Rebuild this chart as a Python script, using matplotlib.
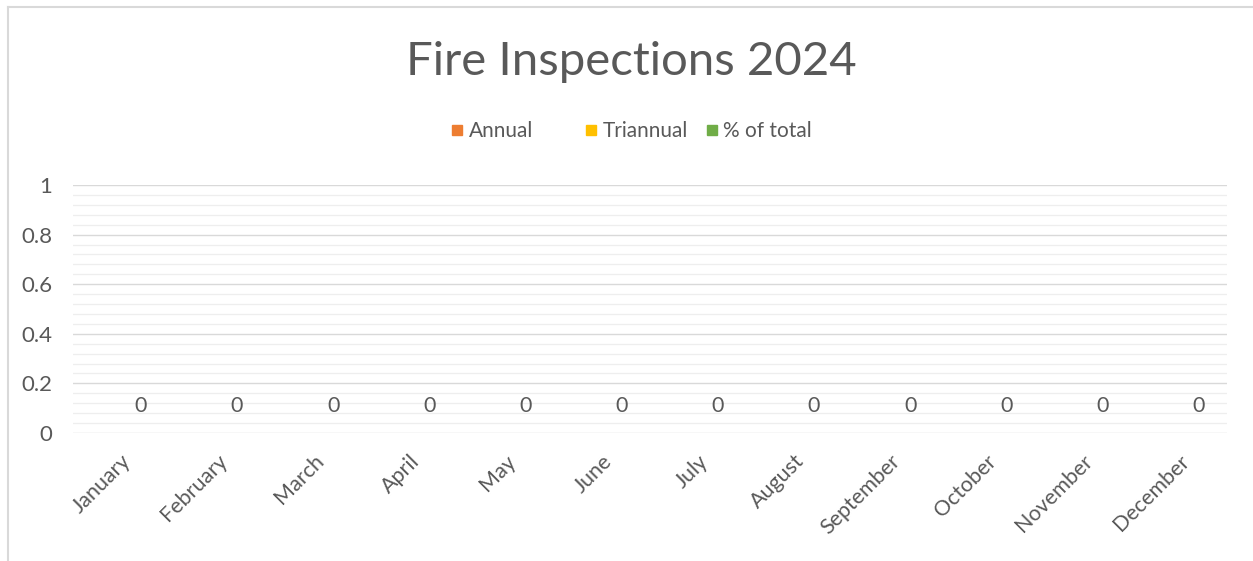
import matplotlib
matplotlib.use("Agg")
import matplotlib.pyplot as plt
from matplotlib.ticker import MultipleLocator
from matplotlib.lines import Line2D
import numpy as np

months = ["January", "February", "March", "April", "May", "June", "July",
          "August", "September", "October", "November", "December"]
annual = [0, 0, 0, 0, 0, 0, 0, 0, 0, 0, 0, 0]
triannual = [0, 0, 0, 0, 0, 0, 0, 0, 0, 0, 0, 0]
pct_total = [0, 0, 0, 0, 0, 0, 0, 0, 0, 0, 0, 0]
series_names = ["Annual", "Triannual", "% of total"]
series_colors = ["#ED7D31", "#FFC000", "#70AD47"]

TXT = "#595959"
FONT = ["Lato", "DejaVu Sans"]
plt.rcParams['font.family'] = FONT

W, H = 1253, 561
fig = plt.figure(figsize=(W / 100, H / 100), dpi=100)
fig.patch.set_facecolor("white")

ax = fig.add_axes([73 / W, 1 - 433 / H, (1227 - 73) / W, (433 - 185) / H])
x = np.arange(len(months))
width = 0.205
ax.bar(x - width, annual, width, color=series_colors[0])
ax.bar(x, triannual, width, color=series_colors[1])
ax.bar(x + width, pct_total, width, color=series_colors[2])

for xi, v in zip(x, pct_total):
    ax.annotate(f"{v:g}", (xi + width, v), xytext=(0, 19.8), textcoords="offset points",
                ha="center", va="center", color=TXT, fontsize=15.5)

ax.set_xlim(-0.5, len(months) - 0.5)
ax.set_ylim(0, 1)
ax.yaxis.set_major_locator(MultipleLocator(0.2))
ax.yaxis.set_minor_locator(MultipleLocator(0.04))
ax.yaxis.set_major_formatter(plt.FuncFormatter(lambda v, p: f"{v:g}"))
ax.grid(which="major", axis="y", color="#d9d9d9", linewidth=1.0)
ax.grid(which="minor", axis="y", color="#eeeeee", linewidth=0.9)
ax.set_axisbelow(True)
for s in ax.spines.values():
    s.set_visible(False)
ax.tick_params(axis="both", which="both", length=0)
ax.tick_params(axis="y", labelsize=16, labelcolor=TXT, pad=15)
ax.set_xticks(x)
ax.set_xticklabels(months, rotation=45, ha="right", rotation_mode="anchor",
                   fontsize=15.5, color=TXT)
ax.tick_params(axis="x", pad=13)

fig.text(631.5 / W, 1 - 75 / H, "Fire Inspections 2024", ha="center", va="baseline",
         fontsize=34, color=TXT)

# legend entries placed individually (Excel-like spacing)
square_x = [457, 591, 712]
for name, col, sx in zip(series_names, series_colors, square_x):
    h = Line2D([], [], marker="s", linestyle="none", markersize=7.5,
               markerfacecolor=col, markeredgecolor=col)
    fig.legend([h], [name], loc="center left",
               bbox_to_anchor=((sx - 7.3) / W, 1 - 131 / H),
               frameon=False, fontsize=15, labelcolor=TXT, borderpad=0,
               borderaxespad=0, handlelength=0.7, handletextpad=0.2)

fig.add_artist(Line2D([8 / W, 1], [1 - 7 / H, 1 - 7 / H], color="#d9d9d9", linewidth=1.5,
                      transform=fig.transFigure))
fig.add_artist(Line2D([8 / W, 8 / W], [0, 1 - 7 / H], color="#d9d9d9", linewidth=1.5,
                      transform=fig.transFigure))

fig.savefig("out.png", dpi=100)
